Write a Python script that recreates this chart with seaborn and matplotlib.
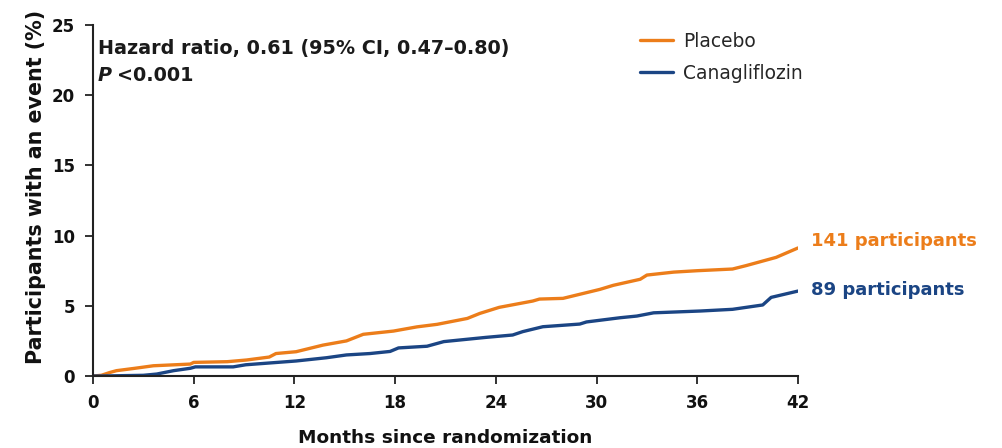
import matplotlib
matplotlib.use("Agg")
import matplotlib.pyplot as plt
from matplotlib.lines import Line2D
import seaborn as sns
import pandas as pd

# Cumulative incidence (%) by months since randomization
placebo_months = [0, 0.5, 1.0, 1.4, 2.5, 3.6, 5.8, 6.0, 8.0, 9.15, 10.5, 10.9, 12.1, 13.7,
                  15.1, 16.1, 17.9, 19.3, 20.5, 22.3, 23.05, 24.2, 26.2, 26.6, 28.0, 30.2,
                  31.0, 32.6, 33.0, 34.6, 36.0, 38.1, 38.9, 40.7, 42.0]
placebo_pct = [0, 0.05, 0.25, 0.38, 0.55, 0.73, 0.85, 0.97, 1.02, 1.14, 1.35, 1.6, 1.73, 2.2,
               2.5, 2.97, 3.2, 3.5, 3.68, 4.1, 4.46, 4.89, 5.34, 5.48, 5.53, 6.17,
               6.46, 6.89, 7.19, 7.4, 7.5, 7.62, 7.86, 8.45, 9.12]

cana_months = [0, 0.5, 3.0, 3.8, 4.8, 5.8, 6.1, 8.35, 9.1, 12.1, 13.9, 15.1, 16.5, 17.7,
               18.2, 19.9, 20.9, 23.4, 25.0, 25.6, 26.8, 29.0, 29.4, 31.4, 32.4, 33.4,
               36.2, 38.1, 39.9, 40.4, 42.0]
cana_pct = [0, 0, 0.05, 0.14, 0.38, 0.55, 0.65, 0.65, 0.8, 1.07, 1.3, 1.5, 1.6, 1.75,
            2.0, 2.12, 2.45, 2.75, 2.92, 3.16, 3.51, 3.7, 3.85, 4.15, 4.27, 4.5,
            4.63, 4.75, 5.06, 5.6, 6.05]

groups = ["Placebo", "Canagliflozin"]
event_counts = [141, 89]
palette = {"Placebo": "#EC7D1A", "Canagliflozin": "#1B4584"}

x_ticks = [0, 6, 12, 18, 24, 30, 36, 42]
y_ticks = [0, 5, 10, 15, 20, 25]

df = pd.concat([
    pd.DataFrame({"month": placebo_months, "pct": placebo_pct, "group": "Placebo"}),
    pd.DataFrame({"month": cana_months, "pct": cana_pct, "group": "Canagliflozin"}),
])

sns.set_theme(style="ticks")
plt.rcParams["font.family"] = ["DejaVu Sans"]

fig = plt.figure(figsize=(10.02, 4.48), dpi=100)
ax = fig.add_axes([0.0928, 0.1607, 0.7036, 0.7835])

sns.lineplot(data=df, x="month", y="pct", hue="group", hue_order=groups,
             palette=palette, linewidth=2.4, ax=ax, legend=False)

ax.set_xlim(0, 42)
ax.set_ylim(0, 25)
ax.set_xticks(x_ticks)
ax.set_yticks(y_ticks)
ax.set_xticklabels([str(t) for t in x_ticks])
ax.set_yticklabels([str(t) for t in y_ticks])
ax.tick_params(axis="both", direction="out", length=6, width=1.3, color="#222222",
               labelsize=12, labelcolor="#111111")
ax.tick_params(axis="x", pad=7)
ax.tick_params(axis="y", pad=7)
for lbl in ax.get_xticklabels() + ax.get_yticklabels():
    lbl.set_fontweight("bold")
for side in ("top", "right"):
    ax.spines[side].set_visible(False)
for side in ("left", "bottom"):
    ax.spines[side].set_linewidth(1.5)
    ax.spines[side].set_color("#222222")

ax.set_xlabel("Months since randomization", fontsize=13.3, fontweight="bold",
              labelpad=12, color="#111111")
ax.set_ylabel("Participants with an event (%)", fontsize=14.9, fontweight="bold",
              color="#111111")
ax.yaxis.set_label_coords(-0.067, 0.54)

# Hazard ratio annotation
ax.text(0.3, 23.35, "Hazard ratio, 0.61 (95% CI, 0.47\u20130.80)", fontsize=13.8,
        fontweight="bold", va="center", ha="left", color="#1a1a1a")
ax.text(0.3, 21.4, "P", fontsize=13.8, fontweight="bold", fontstyle="italic",
        va="center", ha="left", color="#1a1a1a")
ax.annotate("<0.001", xy=(0.3, 21.4), xytext=(13.7, 0), textcoords="offset points",
            fontsize=13.8, fontweight="bold", va="center", ha="left", color="#1a1a1a")

# Legend
handles = [Line2D([0], [0], color=palette[g], lw=2.4) for g in groups]
fig.legend(handles, groups, loc="upper left", bbox_to_anchor=(0.622, 0.967),
           frameon=False, fontsize=13.4, handlelength=1.8, handletextpad=0.5,
           labelspacing=0.72)

# End-of-curve labels
ends = [placebo_pct[-1], cana_pct[-1]]
offsets = [0.5, 0.1]
for g, n, yv, off in zip(groups, event_counts, ends, offsets):
    ax.annotate(f"{n} participants", xy=(42, yv + off), xytext=(9.4, 0),
                textcoords="offset points", color=palette[g], fontsize=13,
                fontweight="bold", va="center", ha="left", annotation_clip=False)

fig.savefig("out.png", dpi=100, facecolor="white")
